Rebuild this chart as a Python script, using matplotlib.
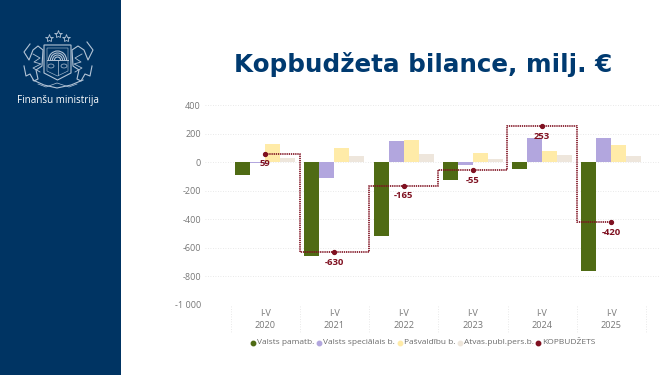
import matplotlib
matplotlib.use('Agg')
import matplotlib.pyplot as plt
from matplotlib.patches import Rectangle, Polygon, Arc, Ellipse
import numpy as np

years = ['2020', '2021', '2022', '2023', '2024', '2025']
period = 'I-V'

# milj. EUR
pamatb = [-91, -659, -519, -126, -47, -759]
specialais = [-5, -110, 147, -20, 170, 170]
pasvaldibu = [128, 98, 154, 63, 77, 121]
atvas = [32, 47, 58, 23, 49, 47]
kopbudzets = [59, -630, -165, -55, 253, -420]

series_names = ['Valsts pamatb.', 'Valsts speciālais b.', 'Pašvaldību b.',
                'Atvas.publ.pers.b.', 'KOPBUDŽETS']
yticks = [400, 200, 0, -200, -400, -600, -800, -1000]
yticklabels = ['400', '200', '0', '-200', '-400', '-600', '-800', '-1 000']

GREEN = '#4f6b14'
PURPLE = '#b2a6de'
YELLOW = '#ffeba8'
BEIGE = '#eee6dc'
RED = '#7f1020'
NAVY = '#003463'
GREY = '#777777'

plt.rcParams['font.family'] = ['Open Sans', 'DejaVu Sans']

W, H = 665, 375
fig = plt.figure(figsize=(W / 100, H / 100), dpi=100, facecolor='white')

# background layer in pixel coordinates (side panel, emblem)
bg = fig.add_axes([0, 0, 1, 1])
bg.set_xlim(0, W)
bg.set_ylim(H, 0)
bg.axis('off')
bg.add_patch(Rectangle((0, 0), 120.5, H, color=NAVY, lw=0))

# rough emblem
c = '#b4c4d6'
bg.add_patch(Polygon([(44, 45), (71, 45), (71, 73), (57.5, 80), (44, 73)],
                     fill=False, ec=c, lw=0.8))
bg.add_patch(Polygon([(47, 48), (68, 48), (68, 71), (57.5, 76), (47, 71)],
                     fill=False, ec=c, lw=0.4))
for r in (18, 14, 10, 6):
    bg.add_patch(Arc((57.5, 60), r, r, theta1=180, theta2=360, ec=c, lw=0.8))
bg.plot([47, 68], [60, 60], color=c, lw=0.7)
bg.plot([57.5, 57.5], [60, 75], color=c, lw=0.5)
for x0, y0 in [(49, 38), (57.5, 34), (66, 38)]:
    bg.plot(x0, y0, marker='*', ms=6, mfc='none', mec=c, mew=0.6)
bg.add_patch(Ellipse((51, 66), 6, 4, fill=False, ec=c, lw=0.5))
bg.add_patch(Ellipse((64, 66), 6, 4, fill=False, ec=c, lw=0.5))
# lion and griffin, only outlines
bg.plot([30, 24, 29, 33, 38, 43, 42, 36, 38, 34, 30, 26, 24],
        [44, 52, 60, 50, 46, 50, 66, 70, 79, 81, 74, 76, 66], color=c, lw=0.8)
bg.plot([33, 40, 34, 41, 33, 40], [54, 58, 62, 64, 68, 72], color=c, lw=0.6)
bg.plot([87, 93, 88, 84, 78, 72, 73, 79, 77, 81, 85, 90, 92],
        [42, 50, 60, 50, 46, 50, 66, 70, 79, 81, 74, 76, 66], color=c, lw=0.8)
bg.plot([82, 75, 81, 74, 82, 75], [54, 58, 62, 64, 68, 72], color=c, lw=0.6)
bg.plot([33, 44, 57, 71, 83], [80, 85, 88, 85, 80], color=c, lw=0.8)
bg.plot([38, 46, 57, 69, 77], [84, 87, 83, 87, 84], color=c, lw=0.5)

bg.text(58, 100.5, 'Finanšu ministrija', color='white', fontsize=7.1,
        ha='center', va='center')
bg.text(423.5, 64.5, 'Kopbudžeta bilance, milj. €', color='#003a70', fontsize=17.7,
        fontweight='bold', family='DejaVu Sans', ha='center', va='center')

# chart
ax_left, ax_right, ax_top, ax_bottom = 205, 660, 105.3, 305
ax = fig.add_axes([ax_left / W, 1 - ax_bottom / H,
                   (ax_right - ax_left) / W, (ax_bottom - ax_top) / H])
ax.patch.set_alpha(0)
step = 69.2
ax.set_xlim((ax_left - 265.2) / step, (ax_right - 265.2) / step)
ax.set_ylim(-1000, 400)

x = np.arange(len(years))
bw = 15 / step
series = [pamatb, specialais, pasvaldibu, atvas]
colors = [GREEN, PURPLE, YELLOW, BEIGE]
for i in range(4):
    ax.bar(x + (i - 1.5) * bw, series[i], bw, color=colors[i], zorder=2)

ax.plot(x, kopbudzets, drawstyle='steps-mid', color=RED, lw=1.35,
        linestyle=(0, (0.7, 0.45)), alpha=0.9, zorder=3)
ax.plot(x, kopbudzets, linestyle='none', marker='o', ms=2.8, color=RED, zorder=4)
for i in range(len(years)):
    ax.annotate(str(kopbudzets[i]), (x[i], kopbudzets[i]), xytext=(0, -10),
                textcoords='offset pixels', ha='center', va='center',
                color=RED, fontsize=6.8, fontweight='bold', zorder=5)

ax.set_yticks(yticks)
ax.set_yticklabels(yticklabels)
ax.set_xticks([])
ax.tick_params(axis='y', length=0, pad=3, labelcolor=GREY, labelsize=6.5)
ax.grid(axis='y', color='#e2e2e2', linestyle=(0, (1, 2)), lw=0.6, zorder=0)
for s in ax.spines.values():
    s.set_visible(False)

# two level category axis
for i in range(len(years) + 1):
    px = 230.7 + step * i
    bg.plot([px, px], [306, 333], color='#e2e2e2', lw=0.6, linestyle=(0, (1, 2)))
for i in range(len(years)):
    px = 265.2 + step * i
    bg.text(px, 313.5, period, color=GREY, fontsize=6.6, ha='center', va='center')
    bg.text(px, 326, years[i], color=GREY, fontsize=6.6, ha='center', va='center')

# legend, placed by hand to line up with the reference
legend_x = [252.7, 319, 399.6, 460, 538]
for px, name, col in zip(legend_x, series_names, colors + [RED]):
    bg.plot(px, 343, marker='o', ms=3.2, color=col, linestyle='none')
    bg.text(px + 4, 343, name, color='#6a6a6a', fontsize=6.05, ha='left', va='center')

fig.savefig('out.png', dpi=100)
